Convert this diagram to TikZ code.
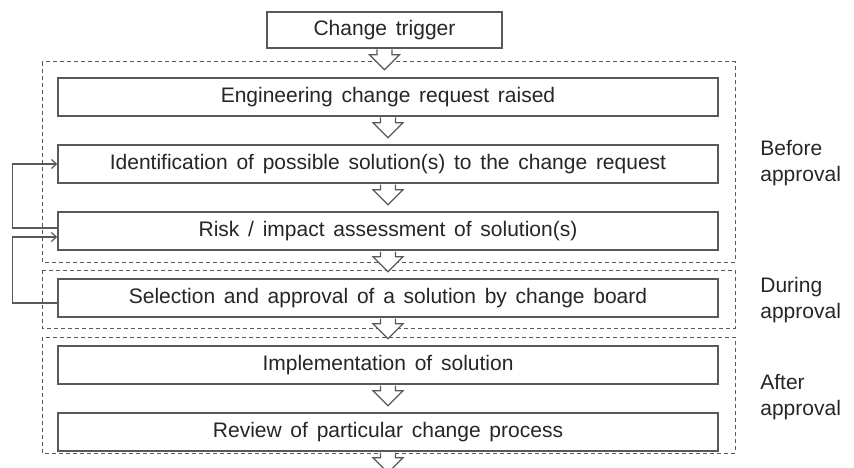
\documentclass[tikz,border=0pt]{standalone}
\usepackage{fontspec}
\setmainfont{Liberation Sans}[WordSpace=1.5]
\usetikzlibrary{calc,arrows.meta}

\definecolor{boxgray}{RGB}{89,89,89}
\definecolor{txtgray}{RGB}{38,38,38}

\tikzset{every picture/.style={line width=0.75pt}}
\tikzset{
  stepbox/.style={draw=boxgray, line width=1.5pt, fill=white, minimum width=660pt, minimum height=38pt, inner sep=0pt, text=txtgray, font=\fontsize{21}{25}\selectfont},
  phase/.style={draw=boxgray, line width=1pt, dash pattern={on 4pt off 3pt}},
  blockarrow/.style={draw=boxgray, line width=1.2pt, fill=white, line join=miter},
  feedback/.style={draw=boxgray, line width=1.2pt, -{Straight Barb[length=5pt,width=9pt]}},
  phaselabel/.style={anchor=west, align=left, inner sep=0pt, text=txtgray, font=\fontsize{21}{26}\selectfont}
}

% hollow down arrow under a box
\newcommand{\blockdown}[1]{%
  \draw[blockarrow] ($(#1)+(-7.5,0.75)$) -- ++(0,5.25) -- ++(-7.5,0) -- ++(15,15) -- ++(15,-15) -- ++(-7.5,0) -- ++(0,-5.25);}

\begin{document}
\begin{tikzpicture}[x=1pt,y=1pt,yscale=-1,xscale=1]
\useasboundingbox (0,0) rectangle (854,468);

%Dashed Rect: before approval
\draw [phase] (42,62) rectangle (735,262);
%Dashed Rect: during approval
\draw [phase] (42,270) rectangle (735,328);
%Dashed Rect: after approval
\draw [phase] (42,337) rectangle (735,453);

% Boxes
\node [stepbox, minimum width=235pt, minimum height=36pt] (trigger) at (384.5,30) {Change trigger};
\node [stepbox] (request) at (388,97) {Engineering change request raised};
\node [stepbox] (ident) at (388,164) {Identification of possible solution(s) to the change request};
\node [stepbox] (risk) at (388,231) {Risk / impact assessment of solution(s)};
\node [stepbox] (select) at (388,298) {Selection and approval of a solution by change board};
\node [stepbox] (impl) at (388,365) {Implementation of solution};
\node [stepbox] (review) at (388,432) {Review of particular change process};

% Block arrows
\blockdown{trigger.south}
\blockdown{request.south}
\blockdown{ident.south}
\blockdown{risk.south}
\blockdown{select.south}
\blockdown{impl.south}
\blockdown{review.south}

%Feedback lines
\draw [feedback] ($(risk.west)+(0,-3)$) -- ++(-45,0) |- (ident.west);
\draw [feedback] ($(select.west)+(0,5)$) -- ++(-45,0) |- ($(risk.west)+(0,6)$);

% Text Node
\node [phaselabel] (before) at (760,163) {Before\\approval};
% Text Node
\node [phaselabel] (during) at (760,300) {During\\approval};
% Text Node
\node [phaselabel] (after) at (760,397) {After\\approval};

\end{tikzpicture}
\end{document}
